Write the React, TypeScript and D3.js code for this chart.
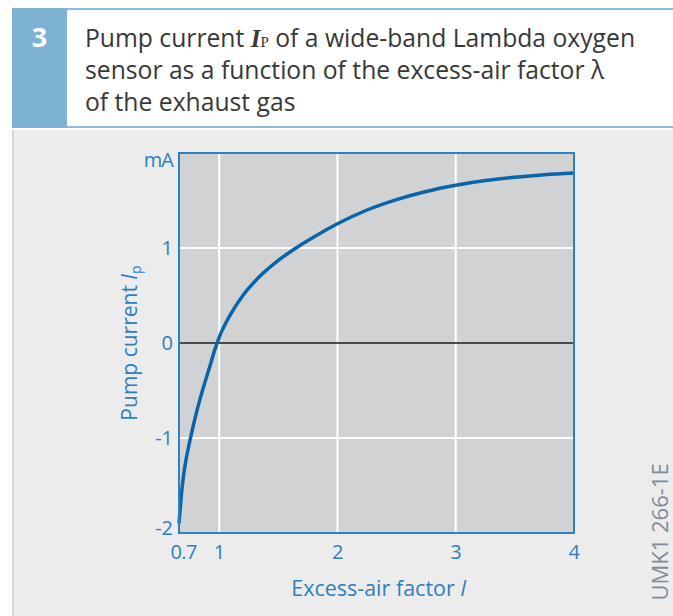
import React from 'react'
import * as d3 from 'd3'

// excess-air factor λ and pump current Ip (mA)
const lambda = [0.66, 0.68, 0.7, 0.73, 0.77, 0.8, 0.84, 0.88, 0.92, 0.96, 1.0, 1.1, 1.2, 1.35, 1.5, 1.65, 1.8, 2.0, 2.25, 2.5, 2.75, 3.0, 3.25, 3.5, 3.75, 4.0]
const pumpCurrent = [-1.9, -1.6, -1.38, -1.16, -0.93, -0.77, -0.58, -0.41, -0.25, -0.08, 0.06, 0.31, 0.5, 0.71, 0.87, 1.0, 1.115, 1.255, 1.4, 1.51, 1.595, 1.66, 1.71, 1.745, 1.772, 1.79]

const xTicks = [0.7, 1, 2, 3, 4]
const xTickLabels = ['0.7', '1', '2', '3', '4']
const yTicks = [-2, -1, 0, 1]
const xGrid = [1, 2, 3]
const yGrid = [-1, 1]

const W = 673
const H = 616
const font = '"Open Sans", "Liberation Sans", Arial, sans-serif'
const blue = '#2f7fc1'

export default function App() {
  const x = d3.scaleLinear().domain([0.66, 4]).range([179, 574])
  const y = d3.scaleLinear().domain([-2, 2]).range([533, 153])

  const pts = lambda.map((l, i) => [l, pumpCurrent[i]] as [number, number])
  const line = d3.line<[number, number]>()
    .x(d => x(d[0]))
    .y(d => y(d[1]))
    .curve(d3.curveMonotoneX)

  return (
    <svg width={W} height={H} style={{ position: 'absolute', left: 0, top: 0 }} fontFamily={font}>
      <rect x={0} y={0} width={W} height={H} fill="#fff" />
      {/* header */}
      <rect x={12} y={8} width={W - 12} height={2} fill="#8dbbdc" />
      <rect x={12} y={8} width={55} height={120} fill="#7db2d5" />
      <rect x={67} y={126} width={W - 67} height={2} fill="#8dbbdc" />
      <text x={39.5} y={47} textAnchor="middle" fill="#fff" fontSize={27} fontWeight="bold">3</text>
      <g fill="#383838" fontSize={24.7}>
        <text x={85} y={47}>
          Pump current <tspan fontFamily='"Liberation Serif", serif' fontStyle="italic" fontWeight="bold" fontSize={25}>I</tspan>
          <tspan fontFamily='"Liberation Serif", serif' fontSize={15}>P</tspan> of a wide-band Lambda oxygen
        </text>
        <text x={85} y={79}>sensor as a function of the excess-air factor λ</text>
        <text x={85} y={111}>of the exhaust gas</text>
      </g>

      {/* panel */}
      <rect x={12} y={130} width={W - 12} height={H - 130} fill="#ebeceb" />
      <rect x={12} y={130} width={2} height={H - 130} fill="#d6d7d6" />

      {/* plot area */}
      <rect x={x(0.66)} y={y(2)} width={x(4) - x(0.66)} height={y(-2) - y(2)} fill="#d1d2d4" />
      {xGrid.map(v => (
        <line key={'gx' + v} x1={x(v)} x2={x(v)} y1={y(2)} y2={y(-2)} stroke="#fff" strokeWidth={2} />
      ))}
      {yGrid.map(v => (
        <line key={'gy' + v} x1={x(0.66)} x2={x(4)} y1={y(v)} y2={y(v)} stroke="#fff" strokeWidth={2} />
      ))}
      <line x1={x(0.66)} x2={x(4)} y1={y(0)} y2={y(0)} stroke="#4a4a4a" strokeWidth={2} />
      <path d={line(pts) || ''} fill="none" stroke="#0a64a9" strokeWidth={3.5} />
      <rect x={x(0.66)} y={y(2)} width={x(4) - x(0.66)} height={y(-2) - y(2)} fill="none" stroke={blue} strokeWidth={2} />

      {/* axes labels */}
      <g fill={blue} fontSize={20}>
        {yTicks.map(v => (
          <text key={'yt' + v} x={173} y={y(v) + (v === -2 ? 2 : 7)} textAnchor="end">{v}</text>
        ))}
        <text x={173} y={167} textAnchor="end" letterSpacing={-1}>mA</text>
        {xTicks.map((v, i) => (
          <text key={'xt' + v} x={x(v)} y={559} textAnchor="middle" letterSpacing={-0.5}>{xTickLabels[i]}</text>
        ))}
        <text x={(x(0.66) + x(4)) / 2 + 2} y={596} textAnchor="middle" fontSize={21.5}>
          Excess-air factor <tspan fontStyle="italic">l</tspan>
        </text>
        <text transform={`translate(137,${y(0)}) rotate(-90)`} textAnchor="middle" fontSize={21}>
          Pump current <tspan fontStyle="italic">I</tspan><tspan fontSize={14} dy={4}>p</tspan>
        </text>
      </g>
      <text transform="translate(668,532) rotate(-90)" textAnchor="middle" fill="#7d8c9c" fontSize={22}>UMK1 266-1E</text>
    </svg>
  )
}
